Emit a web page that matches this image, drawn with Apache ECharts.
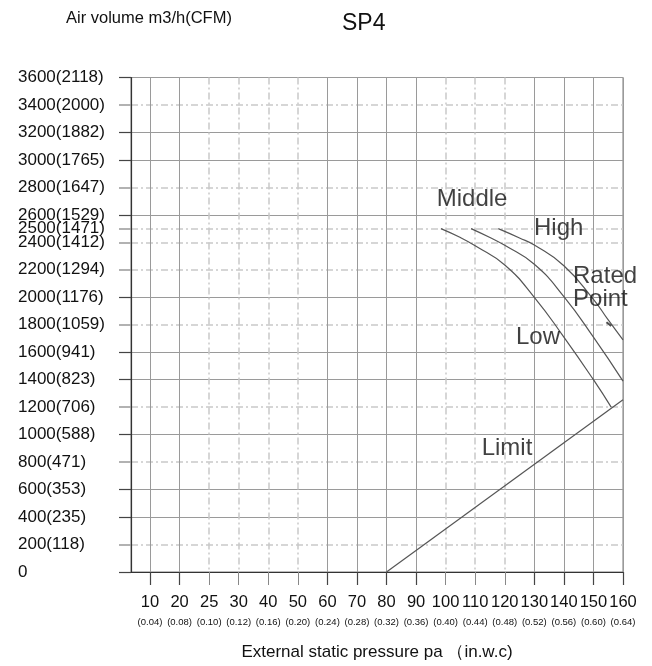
<!DOCTYPE html>
<html><head><meta charset="utf-8">
<script src="https://cdn.jsdelivr.net/npm/echarts@6/dist/echarts.min.js"></script>
<style>html,body{margin:0;padding:0;background:#fff}#c{width:652px;height:666px}</style>
</head><body><div id="c"></div>
<script>
// ---- data ----
const pressureTicks = [10,20,25,30,40,50,60,70,80,90,100,110,120,130,140,150,160];
const pressureLabels = ['10','20','25','30','40','50','60','70','80','90','100','110','120','130','140','150','160'];
const inwcLabels = ['(0.04)','(0.08)','(0.10)','(0.12)','(0.16)','(0.20)','(0.24)','(0.28)','(0.32)','(0.36)','(0.40)','(0.44)','(0.48)','(0.52)','(0.56)','(0.60)','(0.64)'];
const xSolidTicks = [10,20,60,70,80,90,130,140,150,160];
const xDashedTicks = [25,30,40,50,100,110,120];

const airTicks = [0,200,400,600,800,1000,1200,1400,1600,1800,2000,2200,2400,2500,2600,2800,3000,3200,3400,3600];
const airLabels = ['0','200(118)','400(235)','600(353)','800(471)','1000(588)','1200(706)','1400(823)','1600(941)','1800(1059)','2000(1176)','2200(1294)','2400(1412)','2500(1471)','2600(1529)','2800(1647)','3000(1765)','3200(1882)','3400(2000)','3600(2118)'];
const ySolidTicks = [0,400,600,1000,1400,1600,2000,2600,3000,3200,3600];
const yDashedTicks = [200,800,1200,1800,2200,2400,2500,2800,3400];

// curves: [pressure Pa, air volume m3/h]
const lowCurve    = [[98.4,2500],[105,2435],[110,2375],[120,2235],[130,2000],[140,1710],[150,1400],[156,1200]];
const middleCurve = [[108.6,2500],[115,2435],[120,2378],[130,2240],[140,2005],[150,1710],[160,1390]];
const highCurve   = [[117.8,2500],[125,2432],[130,2380],[140,2230],[150,1985],[155,1835],[160,1690]];
const limitLine   = [[80,0],[160,1254]];
const ratedPoint  = [[155.2,1805]];
const annotations = [
  {name:'Middle', at:[97.0,2744]},
  {name:'High', at:[129.9,2530]},
  {name:'Rated\nPoint', at:[143.1,2100]},
  {name:'Low', at:[123.8,1737]},
  {name:'Limit', at:[112.2,926]}
];

// pressure (Pa) -> position on the tick-spaced axis
function pos(p){
  const t = pressureTicks;
  let i = 0;
  while (i < t.length - 2 && p > t[i+1]) i++;
  return i + 1 + (p - t[i]) / (t[i+1] - t[i]);
}
const toXY = arr => arr.map(d => [pos(d[0]), d[1]]);
const posList = arr => arr.map(pos);

const FONT = "'Liberation Sans', Arial, sans-serif";
const solidColor = '#9a9a9a';
const dashColor = '#c9c9c9';
const dashType = [7,3,2,3];
const curveStyle = {color:'#555', width:1.2};

const xBase = {type:'value', min:0.357, max:17, position:'bottom'};
const yBase = {type:'value', min:0, max:3600, position:'left'};

const chart = echarts.init(document.getElementById('c'), null, {renderer:'canvas'});
chart.setOption({
  animation:false,
  backgroundColor:'#fff',
  textStyle:{fontFamily:FONT},
  title:[
    {text:'SP4', left:342, top:12, padding:0, textStyle:{fontSize:23, fontWeight:'normal', color:'#111', fontFamily:FONT}},
    {text:'Air volume m3/h(CFM)', left:66, top:10, padding:0, textStyle:{fontSize:16.5, fontWeight:'normal', color:'#111', fontFamily:FONT}}
  ],
  grid:{left:131, right:29, top:77.5, bottom:87, containLabel:false, show:true, borderColor:'#7a7a7a', borderWidth:1, backgroundColor:'transparent'},
  xAxis:[
    Object.assign({}, xBase, {
      name:'External static pressure pa （in.w.c)', nameLocation:'middle', nameGap:72,
      nameTextStyle:{fontSize:17, color:'#111', fontFamily:FONT},
      axisLine:{show:true, lineStyle:{color:'#333', width:1.2}},
      axisTick:{show:true, inside:false, length:13, customValues:posList(xSolidTicks), lineStyle:{color:'#444', width:1.2}},
      axisLabel:{show:true, margin:19.2, customValues:posList(pressureTicks),
        formatter:v => { const i = Math.round(v) - 1; return '{a|' + pressureLabels[i] + '}\n{b|' + inwcLabels[i] + '}'; },
        rich:{a:{fontSize:16.5, lineHeight:22, color:'#111', fontFamily:FONT}, b:{fontSize:9.5, lineHeight:18, color:'#111', fontFamily:FONT}}},
      splitLine:{show:true, lineStyle:{color:solidColor, width:1}}
    }),
    Object.assign({}, xBase, {
      axisLine:{show:false}, axisLabel:{show:false},
      axisTick:{show:true, inside:false, length:13, customValues:posList(xDashedTicks), lineStyle:{color:'#888', width:1}},
      splitLine:{show:true, lineStyle:{color:dashColor, width:1.5, type:dashType}}
    })
  ],
  yAxis:[
    Object.assign({}, yBase, {
      axisLine:{show:true, lineStyle:{color:'#333', width:1.2}},
      axisTick:{show:true, inside:false, length:12, customValues:ySolidTicks, lineStyle:{color:'#444', width:1.2}},
      axisLabel:{show:true, margin:113, align:'left', customValues:airTicks, fontSize:17, color:'#111', fontFamily:FONT,
        formatter:v => airLabels[airTicks.indexOf(v)]},
      splitLine:{show:true, lineStyle:{color:solidColor, width:1}}
    }),
    Object.assign({}, yBase, {
      axisLine:{show:false}, axisLabel:{show:false},
      axisTick:{show:true, inside:false, length:12, customValues:yDashedTicks, lineStyle:{color:'#999', width:1.5}},
      splitLine:{show:true, lineStyle:{color:dashColor, width:1.5, type:dashType}}
    })
  ],
  series:[
    {name:'Low', type:'line', data:toXY(lowCurve), smooth:true, symbol:'none', lineStyle:curveStyle, z:5},
    {name:'Middle', type:'line', data:toXY(middleCurve), smooth:true, symbol:'none', lineStyle:curveStyle, z:5},
    {name:'High', type:'line', data:toXY(highCurve), smooth:true, symbol:'none', lineStyle:curveStyle, z:5},
    {name:'Limit', type:'line', data:toXY(limitLine), symbol:'none', lineStyle:curveStyle, z:5},
    {name:'Rated point', type:'scatter', data:toXY(ratedPoint), symbol:'rect', symbolSize:[6,2], symbolRotate:-38, itemStyle:{color:'#222'}, z:6},
    {name:'labels', type:'scatter', symbolSize:0, silent:true, z:7,
      data:annotations.map(a => ({name:a.name, value:[pos(a.at[0]), a.at[1]]})),
      label:{show:true, position:[0,0], offset:[0,4], align:'left', verticalAlign:'middle', formatter:p => p.name,
        fontSize:24, lineHeight:23, color:'#111', fontFamily:FONT}}
  ]
});
</script>
</body></html>
